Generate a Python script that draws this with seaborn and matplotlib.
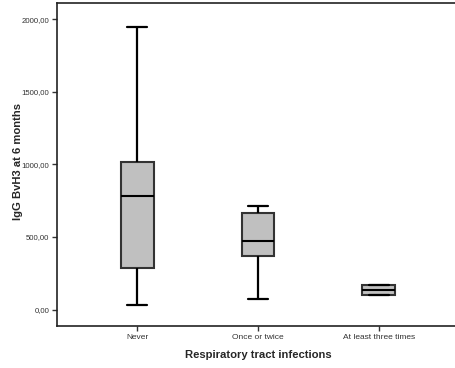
import matplotlib
matplotlib.use("Agg")
import matplotlib.pyplot as plt
import seaborn as sns
import pandas as pd
from matplotlib.ticker import FuncFormatter

categories = ["Never", "Once or twice", "At least three times"]
never_vals = [34, 289, 783, 1017, 1945]
once_vals = [76, 371, 474, 667, 715]
three_vals = [103, 103, 137, 172, 172]
yticks = [0, 500, 1000, 1500, 2000]

rows = []
for cat, vals in zip(categories, [never_vals, once_vals, three_vals]):
    for v in vals:
        rows.append({"group": cat, "value": v})
df = pd.DataFrame(rows)

sns.set_style("white")
plt.rcParams['font.family'] = ['Liberation Sans', 'DejaVu Sans']

fig = plt.figure(figsize=(4.55, 3.68), dpi=100)
ax = fig.add_axes([57/455, 42/368, 402/455, 323/368])

sns.boxplot(data=df, x="group", y="value", order=categories, ax=ax,
            whis=(0, 100), width=0.27, color="#c0c0c0", saturation=1,
            linewidth=1.5, linecolor="black",
            boxprops=dict(facecolor="#c0c0c0", edgecolor="#333333"),
            whiskerprops=dict(color="black", linewidth=1.6),
            capprops=dict(color="black", linewidth=1.6),
            medianprops=dict(color="black", linewidth=1.5),
            capwidths=0.17)

ax.set_xlim(-0.664, 2.664)
ax.set_ylim(-113, 2112)
ax.set_yticks(yticks)
ax.yaxis.set_major_formatter(FuncFormatter(lambda v, p: f"{v:.2f}".replace(".", ",")))

for s in ["left", "bottom", "top"]:
    ax.spines[s].set_visible(True)
    ax.spines[s].set_color("#222222")
    ax.spines[s].set_linewidth(1.2)
ax.spines["right"].set_visible(False)

ax.tick_params(axis="both", which="both", direction="out", length=3.5, width=1,
               color="#333333", labelcolor="#333333", pad=2,
               left=True, bottom=True)
ax.tick_params(axis="x", labelsize=6.0)
ax.tick_params(axis="y", labelsize=5.6)
ax.set_xlabel("Respiratory tract infections", fontsize=8.1, fontweight="bold", labelpad=7)
ax.set_ylabel("IgG BvH3 at 6 months", fontsize=8.1, fontweight="bold",
              va="center")
ax.yaxis.set_label_coords(-0.098, 0.508)

fig.savefig("out.png", dpi=100)
